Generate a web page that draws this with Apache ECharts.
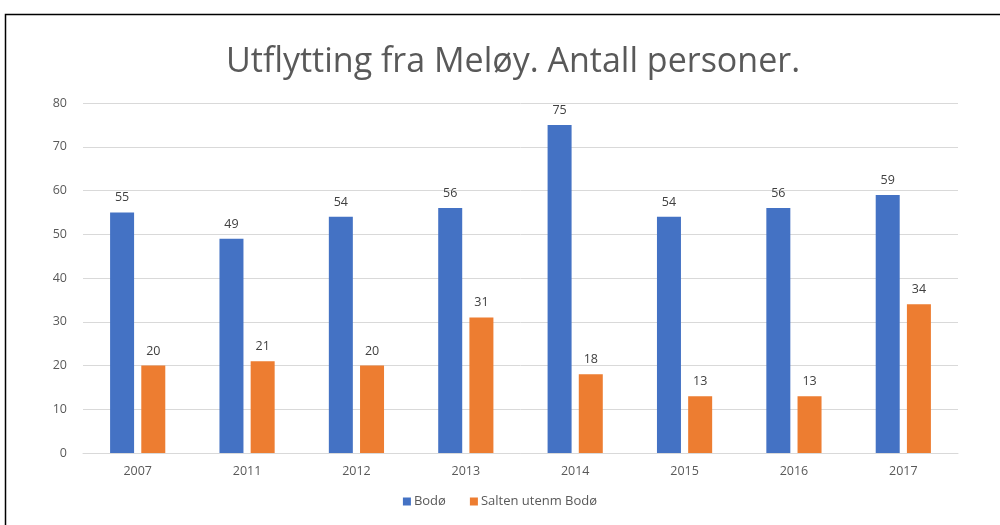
<!DOCTYPE html>
<html><head><meta charset="utf-8">
<script src="https://cdn.jsdelivr.net/npm/echarts@6/dist/echarts.min.js"></script>
<style>html,body{margin:0;padding:0;background:#fff}#c{width:1000px;height:525px}</style>
</head><body><div id="c"></div>
<script>
const titleText = 'Utflytting fra Meløy. Antall personer.';
const categories = ['2007','2011','2012','2013','2014','2015','2016','2017'];
const seriesNames = ['Bodø','Salten utenm Bodø'];
const bodo = [55,49,54,56,75,54,56,59];
const salten = [20,21,20,31,18,13,13,34];
const yTicks = {min:0, max:80, interval:10};
const font = '"Open Sans", "Liberation Sans", sans-serif';
const chart = echarts.init(document.getElementById('c'));
const lbl = {show:true, position:'top', distance:8, color:'#404040', fontSize:12.5, fontFamily:font};
chart.setOption({
  animation:false,
  graphic:[{type:'rect', shape:{x:5.5,y:14.5,width:1100,height:700}, style:{fill:'none', stroke:'#000', lineWidth:1.5}, silent:true}],
  title:{text:titleText, left:221, top:40, textStyle:{fontFamily:font, fontWeight:'normal', fontSize:34, color:'#595959'}},
  grid:{left:83, right:42, top:103, bottom:72},
  legend:{bottom:12, left:'center', itemWidth:8, itemHeight:8, itemGap:24, icon:'rect', textStyle:{fontFamily:font, fontSize:13, color:'#595959', padding:[0,0,0,-2]}, data:seriesNames},
  xAxis:{type:'category', data:categories, axisLine:{lineStyle:{color:'#d9d9d9', width:1}}, axisTick:{show:false}, axisLabel:{color:'#595959', fontSize:12.5, fontFamily:font, margin:12}},
  yAxis:{type:'value', min:yTicks.min, max:yTicks.max, interval:yTicks.interval, axisLine:{show:false}, axisTick:{show:false}, splitLine:{lineStyle:{color:'#d9d9d9'}}, axisLabel:{color:'#595959', fontSize:12.5, fontFamily:font, margin:16}},
  series:[
    {name:seriesNames[0], type:'bar', data:bodo, barWidth:24, barGap:'30%', itemStyle:{color:'#4472c4'}, label:lbl},
    {name:seriesNames[1], type:'bar', data:salten, barWidth:24, barGap:'30%', itemStyle:{color:'#ed7d31'}, label:lbl}
  ]
});
</script></body></html>
